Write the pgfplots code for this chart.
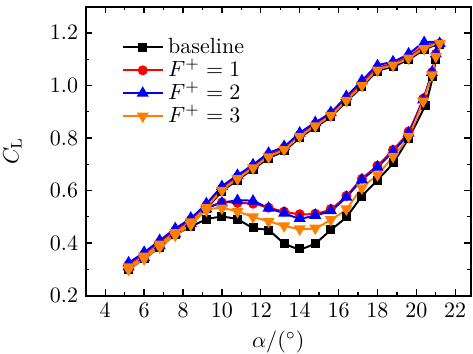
\documentclass[border=0pt]{standalone}
\usepackage{pgfplots}
\pgfplotsset{compat=1.18}
\definecolor{myorange}{RGB}{255,128,0}
\begin{document}
\begin{tikzpicture}
\begin{axis}[
  scale only axis,
  width=175pt, height=131.4pt,
  xmin=3, xmax=22.8, ymin=0.2, ymax=1.3,
  xtick={4,6,...,22}, ytick={0.2,0.4,...,1.2},
  minor x tick num=1, minor y tick num=1,
  tick align=inside, ticks=both,
  major tick length=3pt, minor tick length=1.5pt,
  axis line style={line width=0.9pt},
  every tick/.style={line width=0.6pt,black},
  yticklabel style={/pgf/number format/fixed,/pgf/number format/fixed zerofill,/pgf/number format/precision=1},
  xlabel={$\alpha/(^\circ)$}, ylabel={$C_\mathrm{L}$},
  xlabel style={yshift=1pt},
  ylabel style={yshift=6pt},
  legend style={draw=none, fill=none, at={(0.075,0.915)}, anchor=north west, row sep=0pt, font=\normalsize,
    nodes={inner xsep=2pt, inner ysep=0.5pt, text height=7.5pt, text depth=1.9pt}},
  legend cell align=left,
  legend image code/.code={
    \draw[mark repeat=2,mark phase=2,#1] plot coordinates {(0cm,0cm) (0.32cm,0cm) (0.64cm,0cm)};
  },
]
\addplot[black, line width=0.9pt, smooth, tension=0.45, mark=square*, mark size=1.6pt, mark options={solid}] coordinates {
(5.2,0.305)(6.0,0.345)(6.8,0.391)(7.6,0.435)(8.4,0.476)(9.2,0.531)(10.0,0.596)(10.8,0.640)(11.6,0.681)(12.4,0.723)(13.2,0.751)(14.0,0.801)(14.8,0.841)(15.6,0.881)(16.4,0.938)(17.2,0.995)(18.0,1.053)(18.8,1.072)(19.6,1.099)(20.4,1.135)(21.2,1.157)
(21.0,1.100)(20.85,1.035)(20.45,0.925)(19.6,0.800)(18.8,0.705)(18.0,0.640)(17.2,0.578)(16.4,0.500)(15.6,0.450)(14.8,0.400)(14.0,0.378)(13.2,0.400)(12.4,0.448)(11.6,0.458)(10.8,0.490)(10.0,0.500)(9.2,0.490)(8.4,0.462)(7.6,0.432)(6.8,0.385)(6.0,0.340)(5.2,0.300)
};
\addlegendentry{baseline}
\addplot[red, line width=0.9pt, smooth, tension=0.45, mark=*, mark size=1.8pt, mark options={solid}] coordinates {
(5.2,0.318)(6.0,0.358)(6.8,0.403)(7.6,0.448)(8.4,0.488)(9.2,0.543)(10.0,0.608)(10.8,0.652)(11.6,0.692)(12.4,0.735)(13.2,0.762)(14.0,0.812)(14.8,0.852)(15.6,0.892)(16.4,0.950)(17.2,1.008)(18.0,1.065)(18.8,1.083)(19.6,1.110)(20.4,1.150)(21.2,1.160)
(21.0,1.120)(20.8,1.050)(20.35,0.950)(19.6,0.825)(18.8,0.755)(18.0,0.695)(17.2,0.645)(16.4,0.580)(15.6,0.530)(14.8,0.512)(14.0,0.510)(13.2,0.520)(12.4,0.535)(11.6,0.550)(10.8,0.553)(10.0,0.555)(9.2,0.530)(8.4,0.475)(7.6,0.435)(6.8,0.390)(6.0,0.345)(5.2,0.305)
};
\addlegendentry{$F^+=1$}
\addplot[blue, line width=0.9pt, smooth, tension=0.45, mark=triangle*, mark size=2.3pt, mark options={solid}] coordinates {
(5.2,0.325)(6.0,0.365)(6.8,0.410)(7.6,0.455)(8.4,0.495)(9.2,0.550)(10.0,0.615)(10.8,0.658)(11.6,0.698)(12.4,0.742)(13.2,0.768)(14.0,0.819)(14.8,0.859)(15.6,0.897)(16.4,0.958)(17.2,1.018)(18.0,1.075)(18.8,1.090)(19.6,1.120)(20.4,1.163)(21.2,1.160)
(21.0,1.120)(20.8,1.050)(20.35,0.945)(19.6,0.819)(18.8,0.749)(18.0,0.689)(17.2,0.641)(16.4,0.575)(15.6,0.524)(14.8,0.506)(14.0,0.494)(13.2,0.514)(12.4,0.533)(11.6,0.560)(10.8,0.562)(10.0,0.553)(9.2,0.530)(8.4,0.475)(7.6,0.435)(6.8,0.390)(6.0,0.345)(5.2,0.310)
};
\addlegendentry{$F^+=2$}
\addplot[myorange, line width=0.9pt, smooth, tension=0.45, mark=triangle*, mark size=2.3pt, mark options={solid, rotate=180}] coordinates {
(5.2,0.310)(6.0,0.350)(6.8,0.396)(7.6,0.440)(8.4,0.481)(9.2,0.536)(10.0,0.601)(10.8,0.645)(11.6,0.686)(12.4,0.728)(13.2,0.756)(14.0,0.806)(14.8,0.846)(15.6,0.886)(16.4,0.943)(17.2,1.000)(18.0,1.058)(18.8,1.077)(19.6,1.104)(20.4,1.140)(21.2,1.160)
(21.0,1.110)(20.8,1.040)(20.35,0.940)(19.6,0.806)(18.8,0.730)(18.0,0.660)(17.2,0.610)(16.4,0.530)(15.6,0.489)(14.8,0.457)(14.0,0.454)(13.2,0.466)(12.4,0.483)(11.6,0.500)(10.8,0.520)(10.0,0.533)(9.2,0.525)(8.4,0.470)(7.6,0.430)(6.8,0.385)(6.0,0.340)(5.2,0.300)
};
\addlegendentry{$F^+=3$}
\end{axis}
\pgfresetboundingbox
\useasboundingbox (current axis.south west) ++(-39pt,-26.4pt) rectangle ([xshift=1pt,yshift=3pt]current axis.north east);
\end{tikzpicture}
\end{document}
